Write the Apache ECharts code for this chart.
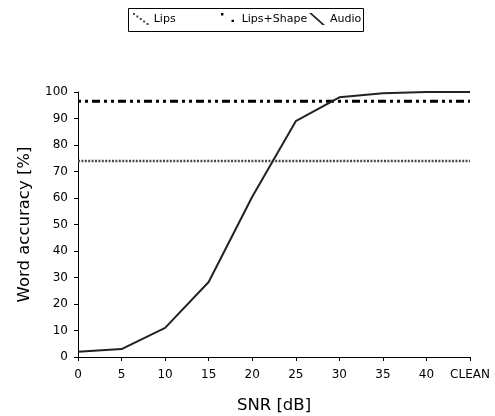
<!DOCTYPE html>
<html>
<head>
<meta charset="utf-8">
<script src="https://cdn.jsdelivr.net/npm/echarts@6/dist/echarts.min.js"></script>
<style>
html,body{margin:0;padding:0;background:#fff;}
#chart{width:495px;height:416px;}
</style>
</head>
<body>
<div id="chart"></div>
<script>
var categories = ['0','5','10','15','20','25','30','35','40','CLEAN'];
var lipsValues = [74,74,74,74,74,74,74,74,74,74];
var lipsShapeValues = [96.5,96.5,96.5,96.5,96.5,96.5,96.5,96.5,96.5,96.5];
var audioValues = [2,3,11,28.3,60.5,89,98,99.5,100,100];
var yTicks = {min:0, max:100, interval:10};
var legendNames = ['Lips','Lips+Shape','Audio'];

var FONT = 'DejaVu Sans';
var icons = {
  'Lips':'path://M0,0h2v2h-2zM3.5,2.6h2v2h-2zM7,5.2h2v2h-2zM10.5,7.8h2v2h-2zM14,10.4h2v2h-2z',
  'Lips+Shape':'path://M0,0h2.5v2.5h-2.5zM11,7h2.5v2.5h-2.5zM16,12.5h0.01v0.01h-0.01z',
  'Audio':'path://M0,0L2.6,0L16,12L13.4,12Z'
};
var legendLeft = [133, 221, 309];
function makeLegend(i){
  return {
    left:legendLeft[i], top:13, padding:0,
    itemWidth:16, itemHeight:12, itemGap:0,
    textStyle:{fontFamily:FONT, fontSize:11, color:'#000'},
    data:[{name:legendNames[i], icon:icons[legendNames[i]]}]
  };
}
var chart = echarts.init(document.getElementById('chart'));
chart.setOption({
  animation:false,
  backgroundColor:'#fff',
  textStyle:{fontFamily:FONT},
  graphic:[{type:'rect', left:128, top:8, shape:{width:235, height:23},
            style:{fill:'#fff', stroke:'#000', lineWidth:1}, z:-1}],
  legend:[makeLegend(0), makeLegend(1), makeLegend(2)],
  grid:{left:78, right:25, top:92, bottom:59, outerBoundsMode:'none', containLabel:false},
  xAxis:{
    type:'category', data:categories, boundaryGap:false,
    name:'SNR [dB]', nameLocation:'middle', nameGap:40,
    nameTextStyle:{fontFamily:FONT, fontSize:16.5, color:'#000'},
    axisLine:{lineStyle:{color:'#000', width:1}},
    axisTick:{show:true, inside:false, length:4, alignWithLabel:true, lineStyle:{color:'#000'}},
    axisLabel:{fontFamily:FONT, fontSize:12, color:'#000', margin:12, interval:0},
    splitLine:{show:false}
  },
  yAxis:{
    type:'value', min:yTicks.min, max:yTicks.max, interval:yTicks.interval,
    name:'Word accuracy [%]', nameLocation:'middle', nameGap:45,
    nameTextStyle:{fontFamily:FONT, fontSize:16.5, color:'#000'},
    axisLine:{show:true, lineStyle:{color:'#000', width:1}},
    axisTick:{show:true, inside:false, length:4, lineStyle:{color:'#000'}},
    axisLabel:{fontFamily:FONT, fontSize:12, color:'#000', margin:10},
    splitLine:{show:false}
  },
  series:[
    {name:'Lips', type:'line', data:lipsValues, symbol:'none', color:'#444',
     lineStyle:{color:'#4a4a4a', width:2.5, type:[2,1.4]}, z:2},
    {name:'Lips+Shape', type:'line', data:lipsShapeValues, symbol:'none', color:'#000',
     lineStyle:{color:'#000', width:3, type:[3,4,3,4,8,4]}, z:3},
    {name:'Audio', type:'line', data:audioValues, symbol:'none', color:'#222',
     lineStyle:{color:'#222', width:2}, z:4}
  ]
});
</script>
</body>
</html>
